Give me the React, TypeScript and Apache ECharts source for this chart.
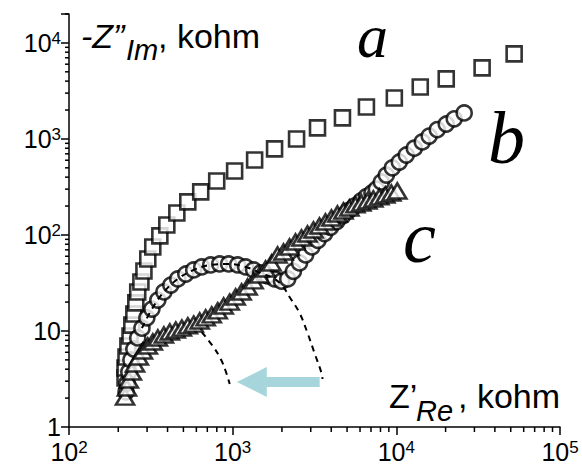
import React, { useEffect, useRef } from 'react';
import * as echarts from 'echarts';

// ---- data (Z'Re, -Z''Im in kohm) ----
const squaresA: number[][] = [
  [220, 3.24], [220, 4.12], [223, 5.36], [229, 6.98], [236, 8.87], [242, 11.5], [249, 15.0],
  [256, 19.6], [263, 25.5], [275, 32.4], [287, 42.2], [303, 56.2], [325, 75.0], [359, 97.7],
  [396, 127], [456, 169], [532, 221], [638, 281], [799, 365], [1028, 464], [1362, 604],
  [1803, 787], [2457, 1000], [3299, 1303], [4686, 1655], [6565, 2154], [9723, 2673],
  [14000, 3480], [20180, 4217], [33430, 5490], [52460, 7680],
];

const circlesB: number[][] = [
  [223, 2.32], [226, 2.87], [232, 3.74], [239, 4.99], [249, 6.49], [263, 8.46], [279, 10.7],
  [299, 13.7], [321, 16.9], [349, 21.0], [380, 25.5], [419, 30.1], [462, 34.8], [517, 39.2],
  [578, 43.2], [647, 46.4], [734, 48.7], [833, 49.9], [945, 49.9], [1073, 48.7], [1200, 46.4],
  [1343, 43.2], [1482, 40.2], [1635, 37.4], [1803, 34.8], [1990, 33.0], [2170, 34.8],
  [2350, 41.8], [2562, 51.1], [2790, 61.9], [3050, 75.0], [3320, 88.0], [3640, 103],
  [3960, 120], [4320, 138], [4700, 158], [5120, 180], [5580, 201], [6090, 226],
  [6560, 250], [7100, 275], [7551, 300], [8101, 356], [8690, 420], [9454, 500],
  [10430, 575], [11500, 680], [12880, 800], [14410, 930], [15880, 1070], [17790, 1250],
  [20180, 1430], [22580, 1620], [25980, 1866],
];

const trianglesC: number[][] = [
  [220, 2.05], [226, 2.55], [232, 3.09], [242, 3.74], [253, 4.53], [267, 5.36], [283, 6.19],
  [303, 6.98], [325, 7.68], [349, 8.46], [380, 9.09], [413, 9.76], [449, 10.2], [489, 10.7],
  [532, 11.3], [578, 11.8], [629, 12.7], [684, 13.7], [745, 14.7], [810, 16.2], [881, 18.2],
  [959, 20.0], [1043, 22.6], [1134, 25.5], [1234, 28.7], [1343, 33.2], [1461, 38.3],
  [1589, 44.2], [1729, 51.1], [1881, 61.9], [2046, 66.5], [2226, 75.0], [2422, 84.5],
  [2634, 93.0], [2866, 102.4], [3118, 112.7], [3392, 124.1], [3690, 136.5], [4015, 150.3],
  [4368, 165.4], [4752, 177.8], [5169, 191.1], [5624, 205.4], [6118, 215.4], [6656, 226.0],
  [7241, 237.1], [7877, 248.9], [8570, 261.0], [9323, 273.8], [10140, 287.2],
];

// dashed fit arcs
const dashArcB: number[][] = [
  [279, 10.7], [321, 16.9], [380, 25.5], [462, 34.8], [578, 43.2], [734, 48.7], [945, 49.9],
  [1200, 46.4], [1482, 40.2], [1803, 34.8], [2017, 29.4], [2226, 22.6], [2562, 15.4],
  [2866, 9.53], [3162, 5.90], [3489, 3.65], [3540, 3.16],
];
const dashArcC: number[][] = [
  [647, 9.76], [755, 6.98], [845, 5.11], [906, 3.83], [959, 2.80],
];

// arrow: from tail to tip
const arrowFrom = [3400, 2.94];
const arrowTo = [1060, 2.94];

const xMinorTicks = [200, 300, 400, 500, 600, 700, 800, 900, 2000, 3000, 4000, 5000, 6000, 7000, 8000, 9000,
  20000, 30000, 40000, 50000, 60000, 70000, 80000, 90000];
const yMinorTicks = [2, 3, 4, 5, 6, 7, 8, 9, 20, 30, 40, 50, 60, 70, 80, 90, 200, 300, 400, 500, 600, 700, 800, 900,
  2000, 3000, 4000, 5000, 6000, 7000, 8000, 9000, 20000];

const X_MIN = 100, X_MAX = 100000, Y_MIN = 1, Y_MAX = 20000;

const SANS = '"Liberation Sans", Arial, sans-serif';
const SERIF = '"Liberation Serif", "Times New Roman", serif';

function powLabel(v: number): string {
  const e = Math.round(Math.log10(v));
  if (Math.abs(v - Math.pow(10, e)) > 1e-6 * v) return '';
  if (e === 0) return '{b|1}';
  if (e === 1) return '{b|10}';
  return '{b|10}{s|' + e + '}';
}

const labelRich = {
  b: { fontSize: 25, fontFamily: SANS, color: '#000' },
  s: { fontSize: 17, fontFamily: SANS, color: '#000', padding: [0, 0, 9, 0] },
};

export default function App() {
  const ref = useRef<HTMLDivElement>(null);
  useEffect(() => {
    if (!ref.current) return;
    const chart = echarts.init(ref.current, null, { renderer: 'svg' });
    const markerStyle = { color: '#fff', borderColor: '#000', borderWidth: 2.6 };
    const option: any = {
      animation: false,
      backgroundColor: '#fff',
      grid: { left: 69, right: 22, top: 14, bottom: 38, containLabel: false, outerBoundsMode: 'none' },
      xAxis: {
        type: 'log', logBase: 10, min: X_MIN, max: X_MAX,
        axisLine: { lineStyle: { color: '#000', width: 1.5 } },
        axisTick: { length: 8, lineStyle: { color: '#000', width: 1.5 } },
        splitLine: { show: false },
        minorTick: { show: false },
        axisLabel: { margin: 12, formatter: powLabel, rich: labelRich, color: '#000' },
      },
      yAxis: {
        type: 'log', logBase: 10, min: Y_MIN, max: Y_MAX,
        axisLine: { lineStyle: { color: '#000', width: 1.5 } },
        axisTick: { length: 8, lineStyle: { color: '#000', width: 1.5 } },
        splitLine: { show: false },
        minorTick: { show: false },
        axisLabel: { margin: 8, formatter: powLabel, rich: labelRich, color: '#000' },
      },
      series: [
        {
          type: 'custom', name: 'xMinor', silent: true, clip: false,
          encode: { x: 0, y: 1 },
          data: xMinorTicks.map((v) => [v, Y_MIN]),
          renderItem: (_p: any, api: any) => {
            const p = api.coord([api.value(0), api.value(1)]);
            return { type: 'line', shape: { x1: p[0], y1: p[1], x2: p[0], y2: p[1] + 5 }, style: { stroke: '#000', lineWidth: 1.5 } };
          },
        },
        {
          type: 'custom', name: 'yMinor', silent: true, clip: false,
          encode: { x: 0, y: 1 },
          data: yMinorTicks.map((v) => [X_MIN, v]),
          renderItem: (_p: any, api: any) => {
            const p = api.coord([api.value(0), api.value(1)]);
            return { type: 'line', shape: { x1: p[0], y1: p[1], x2: p[0] - 4, y2: p[1] }, style: { stroke: '#000', lineWidth: 1.5 } };
          },
        },
        {
          type: 'custom', name: 'arrow', silent: true, clip: false,
          encode: { x: [0, 2], y: [1, 3] },
          data: [[arrowFrom[0], arrowFrom[1], arrowTo[0], arrowTo[1]]],
          renderItem: (_p: any, api: any) => {
            const tail = api.coord([api.value(0), api.value(1)]);
            const tip = api.coord([api.value(2), api.value(3)]);
            const headLen = 30, headHalf = 15, shaftHalf = 5;
            const dir = tip[0] < tail[0] ? -1 : 1;
            const bx = tip[0] - dir * headLen;
            const y = tip[1];
            return {
              type: 'polygon',
              shape: { points: [[tail[0], y - shaftHalf], [bx, y - shaftHalf], [bx, y - headHalf], [tip[0], y], [bx, y + headHalf], [bx, y + shaftHalf], [tail[0], y + shaftHalf]] },
              style: { fill: '#a6d6db' },
            };
          },
        },
        {
          type: 'scatter', name: 'a', symbol: 'rect', symbolSize: 15,
          itemStyle: markerStyle, data: squaresA,
        },
        {
          type: 'scatter', name: 'b', symbol: 'circle', symbolSize: 15,
          itemStyle: markerStyle, data: circlesB,
        },
        {
          type: 'line', name: 'arcB', data: dashArcB, showSymbol: false, smooth: 0.4,
          lineStyle: { color: '#000', width: 2, type: [6, 5] }, silent: true,
        },
        {
          type: 'line', name: 'arcC', data: dashArcC, showSymbol: false, smooth: 0.4,
          lineStyle: { color: '#000', width: 2, type: [6, 5] }, silent: true,
        },
        {
          type: 'scatter', name: 'c', symbol: 'triangle', symbolSize: [18, 15],
          itemStyle: markerStyle, data: trianglesC,
        },
      ],
      graphic: [
        { type: 'text', left: 81, top: 19, style: { text: '-Z\u201D', font: 'italic 34px ' + SANS, fill: '#000' } },
        { type: 'text', left: 126, top: 35, style: { text: 'Im', font: 'italic 29px ' + SANS, fill: '#000' } },
        { type: 'text', left: 158, top: 19, style: { text: ', kohm', font: '34px ' + SANS, fill: '#000' } },
        { type: 'text', left: 389, top: 379, style: { text: 'Z\u2019', font: '34px ' + SANS, fill: '#000' } },
        { type: 'text', left: 416, top: 396, style: { text: 'Re', font: 'italic 29px ' + SANS, fill: '#000' } },
        { type: 'text', left: 458, top: 379, style: { text: ', kohm', font: '34px ' + SANS, fill: '#000' } },
        { type: 'text', left: 357, top: 5, style: { text: 'a', font: 'italic 62px ' + SERIF, fill: '#000' } },
        { type: 'text', left: 488, top: 101, style: { text: 'b', font: 'italic 74px ' + SERIF, lineHeight: 56, fill: '#000' } },
        { type: 'text', left: 403, top: 200, style: { text: 'c', font: 'italic 74px ' + SERIF, lineHeight: 56, fill: '#000' } },
      ],
    };
    chart.setOption(option);
    return () => chart.dispose();
  }, []);
  return <div ref={ref} style={{ position: 'fixed', left: 0, top: 0, width: 582, height: 465 }} />;
}
